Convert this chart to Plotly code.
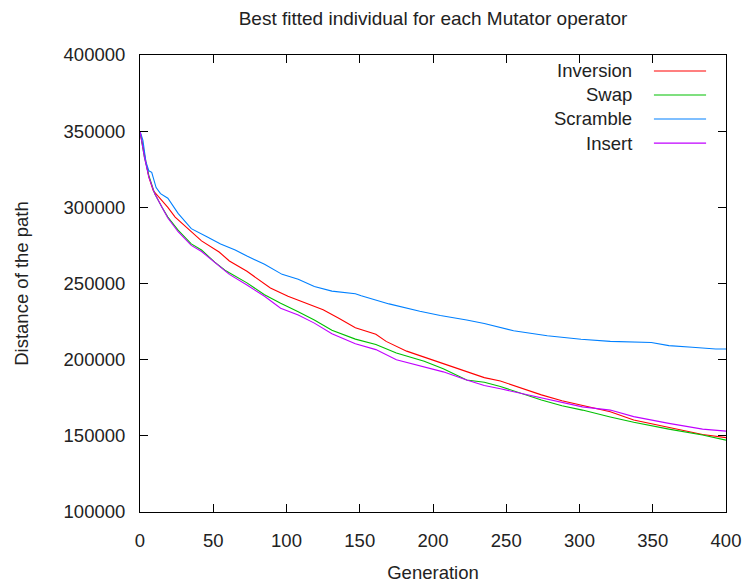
import plotly.graph_objects as go

# Data (distance values in units of 1)
inv_gen = [0, 3, 6, 9, 15, 19, 24, 33, 42, 54, 61, 73, 85, 89, 101, 113, 125, 136, 147, 161, 168, 182, 202, 217, 235, 246, 260, 274, 288, 302, 321, 337, 361, 384, 400]
inv_val = [350000, 335000, 320000, 311000, 304600, 300000, 293600, 286000, 278000, 270700, 264800, 258000, 250000, 247000, 241600, 237000, 232700, 227000, 221000, 216700, 212000, 205600, 199000, 194000, 188200, 186000, 181300, 176900, 173000, 170000, 165800, 160400, 155300, 150900, 148800]

swap_gen = [0, 3, 6, 10, 15, 19, 26, 35, 42, 51, 58, 61, 73, 85, 96, 108, 119, 131, 147, 161, 175, 194, 207, 223, 235, 246, 260, 274, 288, 302, 321, 337, 361, 384, 400]
swap_val = [350000, 333000, 321000, 309000, 300000, 293600, 285000, 276000, 272000, 264000, 258700, 257000, 250400, 242600, 237000, 231500, 226000, 219300, 213500, 210000, 204400, 199000, 194000, 186600, 185200, 182400, 178000, 173500, 169800, 166900, 162400, 158900, 154400, 150500, 147200]

scr_gen = [0, 2, 4, 6, 8, 11, 14, 19, 26, 35, 46, 55, 65, 73, 85, 97, 108, 119, 131, 147, 151, 170, 191, 205, 223, 235, 255, 278, 301, 321, 349, 361, 377, 393, 400]
scr_val = [350000, 344000, 330000, 324000, 323000, 313000, 309000, 306000, 296000, 286000, 280500, 276000, 272000, 268000, 262600, 256000, 252800, 248000, 245000, 243300, 242000, 236600, 231800, 229000, 226000, 223700, 219000, 215700, 213400, 212000, 211300, 209200, 208200, 207000, 207000]

ins_gen = [0, 3, 6, 10, 15, 19, 26, 35, 42, 51, 58, 61, 73, 85, 96, 108, 119, 131, 147, 161, 175, 194, 207, 223, 235, 246, 260, 274, 288, 302, 321, 337, 361, 384, 400]
ins_val = [350000, 333000, 320000, 309000, 300000, 293000, 284000, 275000, 271000, 264000, 258500, 256000, 249000, 241600, 233800, 229300, 224000, 217000, 210500, 206600, 200000, 195500, 192000, 186600, 183000, 180900, 178000, 174800, 172400, 169000, 166900, 162600, 158200, 154400, 153100]

names = ["Inversion", "Swap", "Scramble", "Insert"]
colors = ["#ff0000", "#00c000", "#0080ff", "#c000ff"]
series = [(inv_gen, inv_val), (swap_gen, swap_val), (scr_gen, scr_val), (ins_gen, ins_val)]

x_ticks = [0, 50, 100, 150, 200, 250, 300, 350, 400]
y_ticks = [100000, 150000, 200000, 250000, 300000, 350000, 400000]

FONT = "Liberation Sans"
FS = 18.5
fig = go.Figure()
for (g, v), n, c in zip(series, names, colors):
    fig.add_trace(go.Scatter(x=g, y=v, mode="lines", name=n,
                             line=dict(color=c, width=1.1),
                             showlegend=False))

# Manual gnuplot-style legend (text right-aligned, line sample to the right)
leg_y = [0.965, 0.9125, 0.86, 0.807]
for n, c, ly in zip(names, colors, leg_y):
    fig.add_annotation(x=0.843, y=ly, xref="paper", yref="paper", text=n,
                       showarrow=False, xanchor="right", yanchor="middle",
                       font=dict(family=FONT, size=FS, color="#222"))
    fig.add_shape(type="line", xref="paper", yref="paper", x0=0.877, x1=0.966,
                  y0=ly, y1=ly, line=dict(color=c, width=1.2))

fig.update_layout(
    width=742, height=583,
    margin=dict(l=140, r=16, t=55, b=71),
    paper_bgcolor="white", plot_bgcolor="white",
    font=dict(family=FONT, size=FS, color="#222"),
    title=dict(text="Best fitted individual for each Mutator operator",
               x=0.5, xref="paper", y=1 - 18 / 583, yref="container",
               xanchor="center", yanchor="middle",
               font=dict(family=FONT, size=19, color="#222")),
    xaxis=dict(range=[0, 400], tickvals=x_ticks, ticktext=[str(t) for t in x_ticks],
               ticks="inside", ticklen=8, tickcolor="black", mirror="ticks",
               showline=True, linecolor="black", linewidth=1, showgrid=False, zeroline=False,
               ticklabelstandoff=12, automargin=False,
               title=dict(text="Generation", standoff=16, font=dict(size=FS))),
    yaxis=dict(range=[100000, 400000], tickvals=y_ticks, ticktext=[str(t) for t in y_ticks],
               ticks="inside", ticklen=8, tickcolor="black", mirror="ticks",
               showline=True, linecolor="black", linewidth=1, showgrid=False, zeroline=False,
               ticklabelstandoff=10, automargin=False,
               title=dict(text="Distance of the path", standoff=30, font=dict(size=FS))),
)
fig.write_html("out.html")
